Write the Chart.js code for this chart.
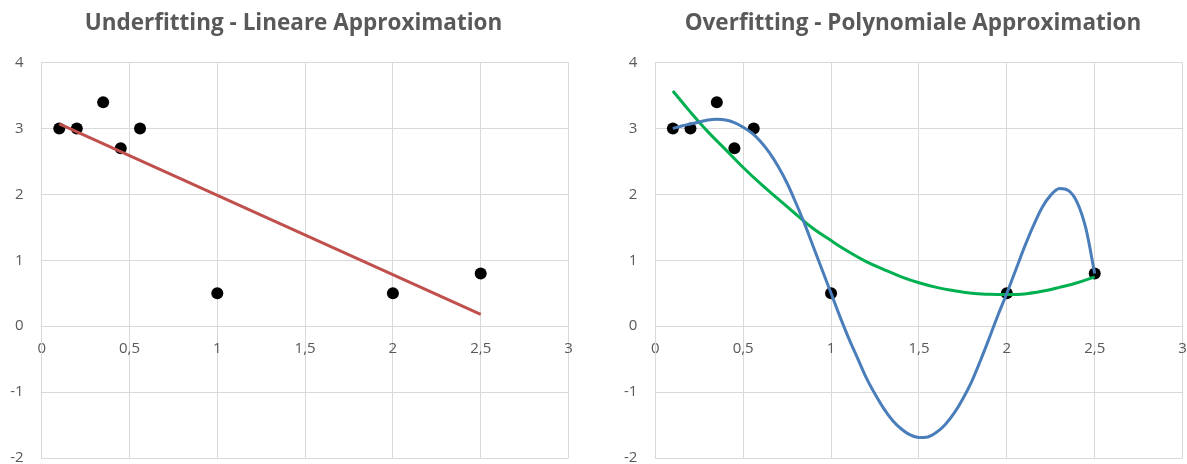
<!DOCTYPE html>
<html>
<head>
<meta charset="utf-8">
<script src="https://cdn.jsdelivr.net/npm/chart.js@4"></script>
<style>
  html, body { margin: 0; padding: 0; background: #fff; overflow: hidden; width: 1187px; height: 464px; }
  .box { position: absolute; top: 0; height: 464px; }
  #boxLeft { left: 0; width: 587px; }
  #boxRight { left: 619px; width: 588px; }
</style>
</head>
<body>
<div class="box" id="boxLeft"><canvas id="chartUnder"></canvas></div>
<div class="box" id="boxRight"><canvas id="chartOver"></canvas></div>
<script>
const xTickLabels = ['0','0,5','1','1,5','2','2,5','3'];
const yTickLabels = ['-2','-1','0','1','2','3','4'];

// measured points (same in both charts)
const pointsX = [0.1, 0.2, 0.35, 0.45, 0.56, 1, 2, 2.5];
const pointsY = [3, 3, 3.4, 2.7, 3, 0.5, 0.5, 0.8];

// linear fit, two ends
const linearX = [0.1, 2.5];
const linearY = [3.07, 0.18];

// green curve
const quadX = [0.1, 0.2, 0.3, 0.4, 0.5, 0.6, 0.7, 0.8, 0.9, 1.0, 1.1, 1.2, 1.3, 1.4, 1.5, 1.6, 1.7, 1.8, 1.9, 2.0, 2.1, 2.2, 2.3, 2.4, 2.5];
const quadY = [3.57, 3.25, 2.95, 2.68, 2.41, 2.16, 1.93, 1.7, 1.48, 1.3, 1.13, 0.98, 0.86, 0.75, 0.66, 0.59, 0.54, 0.5, 0.485, 0.48, 0.49, 0.53, 0.59, 0.66, 0.75];

// blue curve
const polyX = [0.1, 0.15, 0.2, 0.25, 0.3, 0.35, 0.4, 0.45, 0.5, 0.55, 0.6, 0.65, 0.7, 0.75, 0.8, 0.85, 0.9, 0.95,
               1.0, 1.05, 1.1, 1.15, 1.2, 1.25, 1.3, 1.35, 1.4, 1.45, 1.5, 1.55, 1.6, 1.65, 1.7, 1.75, 1.8, 1.85, 1.9, 1.95,
               2.0, 2.05, 2.1, 2.15, 2.2, 2.25, 2.3, 2.35, 2.4, 2.45, 2.5];
const polyY = [3.0, 3.04, 3.07, 3.1, 3.13, 3.14, 3.13, 3.09, 3.02, 2.93, 2.8, 2.63, 2.42, 2.17, 1.87, 1.55, 1.2, 0.85,
               0.5, 0.15, -0.18, -0.48, -0.78, -1.03, -1.25, -1.43, -1.56, -1.65, -1.69, -1.68, -1.61, -1.49, -1.32, -1.1, -0.84, -0.52, -0.18, 0.17,
               0.5, 0.85, 1.2, 1.52, 1.8, 1.99, 2.09, 2.06, 1.88, 1.48, 0.8];

const toXY = (xs, ys) => xs.map((x, i) => ({x: x, y: ys[i]}));

const gridGray = '#D9D9D9';
const textGray = '#595959';
const tickFont = {family: 'Open Sans', size: 15};

function makeOptions(title, yWidth, rightWidth) {
  return {
    responsive: true,
    maintainAspectRatio: false,
    animation: false,
    events: [],
    layout: {padding: {left: 0, right: 0, top: 0, bottom: 6}},
    plugins: {
      legend: {display: false},
      tooltip: {enabled: false},
      title: {
        display: true,
        text: title,
        color: textGray,
        font: {family: 'Open Sans', size: 22.5, weight: 'bold', lineHeight: 1.2},
        padding: {top: 10.5, bottom: 25.2}
      }
    },
    scales: {
      x: {
        type: 'linear',
        position: {y: 0},
        min: 0, max: 3,
        grid: {color: gridGray, drawTicks: false},
        border: {color: gridGray},
        ticks: {
          stepSize: 0.5,
          color: textGray,
          font: tickFont,
          padding: 14,
          maxRotation: 0,
          callback: (v, i) => xTickLabels[i]
        },
        afterFit: s => { s.paddingLeft = 0; s.paddingRight = 0; }
      },
      y: {
        position: 'left',
        min: -2, max: 4,
        grid: {color: gridGray, drawTicks: false},
        border: {color: gridGray},
        ticks: {
          stepSize: 1,
          color: textGray,
          font: tickFont,
          padding: 18,
          callback: (v, i) => yTickLabels[i]
        },
        afterFit: s => { s.width = yWidth; s.paddingTop = 0; s.paddingBottom = 0; }
      },
      // empty spacer on the right so the title sits where it does in the original
      y2: {
        position: 'right',
        min: -2, max: 4,
        grid: {display: false},
        border: {display: false},
        ticks: {display: false},
        afterFit: s => { s.width = rightWidth; s.paddingTop = 0; s.paddingBottom = 0; }
      }
    }
  };
}

const dotStyle = {
  backgroundColor: '#000000',
  borderWidth: 0,
  pointRadius: 6,
  showLine: false
};

const chartUnder = new Chart('chartUnder', {
  type: 'scatter',
  data: {
    datasets: [{
      data: toXY(linearX, linearY),
      showLine: true,
      borderColor: '#C0504D',
      borderWidth: 3,
      pointRadius: 0
    }, Object.assign({data: toXY(pointsX, pointsY)}, dotStyle)]
  },
  options: makeOptions('Underfitting - Lineare Approximation', 41.7, 18.5)
});

const chartOver = new Chart('chartOver', {
  type: 'scatter',
  data: {
    datasets: [{
      data: toXY(polyX, polyY),
      showLine: true,
      borderColor: '#4A7EBB',
      borderWidth: 3,
      pointRadius: 0,
      cubicInterpolationMode: 'monotone'
    }, {
      data: toXY(quadX, quadY),
      showLine: true,
      borderColor: '#00B050',
      borderWidth: 3,
      pointRadius: 0,
      tension: 0.4
    }, Object.assign({data: toXY(pointsX, pointsY)}, dotStyle)]
  },
  options: makeOptions('Overfitting - Polynomiale Approximation', 36.3, 24.4)
});
</script>
</body>
</html>
